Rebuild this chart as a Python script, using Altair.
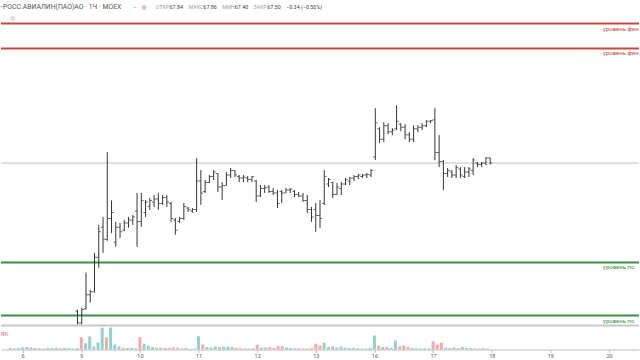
import altair as alt
import pandas as pd

FONT = "Roboto"

# ---------------- data (hourly bars, index 0 = first bar of day 6) ----------------
bar_index = list(range(-3, 112))
opens = [55.6, 55.5, 55.6,
         55.7, 55.9, 56.0, 55.9, 55.95, 56.0, 55.9, 55.95, 56.05, 56.1, 56.0, 56.05, 56.1, 56.15,
         57.6, 56.8, 57.75, 58.7, 58.9, 61.2, 63.2, 62.4, 63.8, 62.2, 63.2, 63.0, 63.5, 63.7,
         64.3, 63.6, 64.2, 64.6, 64.9, 65.1, 64.8, 65.2, 64.8, 63.7, 63.6, 63.8, 64.5, 64.3,
         64.4, 66.3, 65.6, 66.2, 66.6, 66.8, 65.9, 66.0, 66.7, 67.0, 66.6, 66.5, 66.5, 66.4,
         66.3, 65.3, 65.8, 65.9, 65.6, 65.5, 65.6, 65.5, 65.7, 65.6, 65.4, 65.3, 65.0, 64.4,
         64.4, 64.0, 64.8, 66.1, 66.2, 65.4, 65.8, 66.1, 66.3, 66.5, 66.6, 66.6, 66.7, 66.7,
         67.9, 69.8, 69.1, 70.0, 69.6, 69.8, 70.1, 69.9, 69.4, 69.1, 69.8, 69.9, 70.0, 70.3,
         70.4, 68.2, 67.6, 66.8, 66.9, 66.7, 67.1, 66.6, 66.9, 67.0, 67.5, 67.4, 67.5, 67.84]
highs = [55.8, 55.7, 55.8,
         56.0, 56.1, 56.2, 56.0, 56.1, 56.1, 56.0, 56.1, 56.2, 56.2, 56.1, 56.2, 56.2, 56.3,
         57.7, 57.83, 60.17, 59.03, 61.5, 63.37, 63.9, 68.23, 65.0, 63.57, 63.5, 63.7, 63.9, 64.03,
         65.5, 65.5, 65.03, 65.17, 65.37, 65.5, 65.37, 65.37, 64.9, 63.83, 63.9, 64.83, 64.57, 64.5,
         67.83, 67.03, 66.37, 66.7, 67.03, 66.83, 66.23, 66.9, 67.17, 67.03, 66.7, 66.7, 66.63, 66.63,
         66.37, 66.03, 66.03, 66.03, 65.83, 65.7, 65.7, 65.83, 65.83, 65.7, 65.57, 65.5, 65.37, 64.57,
         64.83, 65.03, 67.03, 66.5, 66.23, 66.17, 66.23, 66.5, 66.57, 66.7, 66.77, 66.77, 66.83, 67.1,
         71.17, 69.9, 70.23, 70.17, 69.83, 71.37, 70.17, 70.1, 69.57, 70.03, 70.03, 70.17, 70.37, 70.37,
         71.17, 69.37, 67.7, 67.17, 67.03, 67.37, 67.23, 67.23, 67.23, 67.83, 67.57, 67.57, 67.9, 67.86]
lows = [55.4, 55.4, 55.5,
        55.5, 55.7, 55.8, 55.7, 55.8, 55.8, 55.7, 55.8, 55.9, 55.9, 55.9, 55.9, 56.0, 56.0,
        55.9, 56.3, 57.7, 58.17, 58.85, 60.5, 61.5, 62.3, 62.83, 61.9, 62.5, 62.95, 63.17, 63.37,
        61.9, 63.23, 63.9, 64.37, 64.57, 64.37, 64.7, 64.57, 63.57, 62.7, 63.5, 63.7, 64.23, 64.17,
        64.23, 64.7, 65.5, 66.17, 66.37, 65.57, 65.03, 66.0, 66.5, 66.57, 66.23, 66.23, 66.23, 66.23,
        64.9, 65.23, 65.5, 65.5, 65.37, 64.5, 64.83, 65.5, 65.5, 65.23, 65.23, 64.9, 64.17, 63.57,
        62.9, 63.17, 64.7, 65.9, 65.17, 65.37, 65.37, 66.03, 66.03, 66.3, 66.43, 66.5, 66.5, 66.57,
        67.7, 68.83, 68.9, 69.43, 69.37, 69.7, 69.63, 69.1, 68.9, 68.9, 69.57, 69.7, 69.9, 70.17,
        67.7, 67.23, 65.7, 66.57, 66.5, 66.5, 66.5, 66.5, 66.57, 66.7, 67.23, 67.23, 67.37, 67.40]
closes = [55.5, 55.6, 55.7,
          55.9, 56.0, 55.9, 55.95, 56.0, 55.9, 55.95, 56.05, 56.1, 56.0, 56.05, 56.1, 56.15, 56.2,
          56.8, 57.7, 58.7, 58.9, 61.2, 62.9, 62.4, 63.8, 64.2, 63.2, 62.9, 63.5, 63.7, 63.9,
          63.6, 65.0, 64.9, 65.0, 65.1, 64.8, 65.2, 64.9, 63.8, 63.0, 63.8, 64.6, 64.4, 64.4,
          66.3, 65.5, 66.2, 66.6, 66.9, 65.9, 66.0, 66.7, 67.0, 66.7, 66.5, 66.55, 66.4, 66.6,
          65.3, 65.8, 65.85, 65.6, 65.5, 64.8, 65.5, 65.7, 65.75, 65.4, 65.3, 65.0, 64.4, 63.9,
          64.0, 63.8, 66.6, 66.4, 65.4, 65.9, 66.1, 66.4, 66.5, 66.6, 66.7, 66.7, 66.75, 67.0,
          70.2, 69.1, 70.0, 69.6, 69.7, 70.3, 69.9, 69.4, 69.1, 69.8, 69.9, 70.0, 70.3, 70.35,
          68.2, 67.6, 66.8, 67.0, 66.7, 67.2, 66.7, 66.9, 67.1, 67.7, 67.4, 67.5, 67.84, 67.50]
volumes = [0.3, 0.2, 0.3,
           0.4, 0.5, 0.4, 0.3, 0.25, 0.2, 0.3, 0.3, 0.35, 0.25, 0.3, 0.25, 0.2, 0.3,
           2.45, 1.25, 2.6, 0.6, 1.4, 4.35, 2.45, 4.4, 1.0, 0.6, 0.35, 0.3, 0.3, 0.2,
           2.45, 1.15, 0.75, 0.5, 0.35, 0.35, 0.3, 0.3, 0.4, 0.35, 0.2, 0.3, 0.15, 0.2,
           2.65, 1.0, 0.5, 0.4, 0.6, 0.5, 0.55, 0.55, 0.45, 0.3, 0.25, 0.2, 0.2, 0.25,
           0.95, 0.4, 0.4, 0.5, 0.3, 0.65, 0.65, 0.4, 0.3, 0.25, 0.25, 0.2, 0.2, 0.25,
           1.15, 0.8, 1.35, 0.5, 0.6, 0.4, 0.6, 0.35, 0.3, 0.3, 0.25, 0.2, 0.2, 0.3,
           2.8, 0.8, 0.5, 0.5, 0.3, 1.8, 0.6, 0.8, 0.5, 0.3, 0.25, 0.2, 0.25, 0.2,
           1.65, 1.0, 1.35, 0.4, 0.3, 0.4, 0.3, 0.5, 0.3, 0.3, 0.2, 0.2, 0.25, 0.2]

day_labels = ["6", "9", "10", "11", "12", "13", "16", "17", "18", "19", "20"]
bars_per_day = 14

level_prices = [76.83, 75.17, 60.85, 57.3]
level_names = ["уровень фин", "уровень фин", "уровень по", "уровень по"]
level_colors = ["#c9473f", "#c9473f", "#3f8f43", "#3f8f43"]

ticker_name = "-РОСС.АВИАЛИН(ПАО)АО · 1Ч · MOEX"
volume_label = "ЯК"

# ---------------- frames ----------------
df = pd.DataFrame({"i": bar_index, "o": opens, "h": highs, "l": lows, "c": closes, "v": volumes})
levels = pd.DataFrame({"p": level_prices, "name": level_names, "col": level_colors})
last_close = closes[-1]
prev_close = closes[-2]

W = 640
PRICE_H = 325
VOL_H = 24

xscale = alt.Scale(domain=[-3.98, 145.98], nice=False, zero=False)
yscale = alt.Scale(domain=[56.7, 78.37], nice=False, zero=False)


def X():
    return alt.X("i:Q", scale=xscale, axis=None)


def Y(field):
    return alt.Y(field, type="quantitative", scale=yscale, axis=None)


base = alt.Chart(df)

wicks = base.mark_rule(color="#333333", strokeWidth=1, clip=True).encode(
    x=X(), y=Y("l"), y2="h:Q")
open_t = base.mark_tick(orient="horizontal", size=2, thickness=1, xOffset=-1.2,
                        color="#333333", clip=True).encode(x=X(), y=Y("o"))
close_t = base.mark_tick(orient="horizontal", size=2, thickness=1, xOffset=1.2,
                         color="#333333", clip=True).encode(x=X(), y=Y("c"))

lv = alt.Chart(levels)
level_lines = lv.mark_rule(strokeWidth=2).encode(
    y=Y("p"), x=alt.value(0), x2=alt.value(W),
    color=alt.Color("col:N", scale=None))
level_text = lv.mark_text(align="left", baseline="top", dy=2, fontSize=6, font=FONT,
                          limit=W - 604, ellipsis="").encode(
    y=Y("p"), x=alt.value(604), text="name:N",
    color=alt.Color("col:N", scale=None))

price_line = alt.Chart(pd.DataFrame({"p": [last_close]})).mark_rule(
    color="#bdbdbd", strokeWidth=1).encode(
    y=Y("p"), x=alt.value(0), x2=alt.value(W))


def label(text, x, y, color, size=6.2, font=FONT):
    return alt.Chart(pd.DataFrame({"t": [text]})).mark_text(
        align="left", baseline="middle", fontSize=size, color=color, font=font).encode(
        x=alt.value(x), y=alt.value(y), text="t:N")


chg = last_close - prev_close
LBL = "#a0a0a0"
VAL = "#444444"
HS = 5.4
header = [
    label(ticker_name, 0, 6.5, "#555555", 6.9),
    label("–", 133, 6.5, "#777777", 6, "DejaVu Sans"),
    label("●", 141, 6.5, "#f2b8b8", 6, "DejaVu Sans"),
    label("ОТКР", 155, 6.5, LBL, HS), label(f"{opens[-1]:.2f}", 169, 6.5, VAL, HS),
    label("МАКС", 188, 6.5, LBL, HS), label(f"{highs[-1]:.2f}", 203, 6.5, VAL, HS),
    label("МИН", 222, 6.5, LBL, HS), label(f"{lows[-1]:.2f}", 234.5, 6.5, VAL, HS),
    label("ЗАКР", 253, 6.5, LBL, HS), label(f"{last_close:.2f}", 267, 6.5, VAL, HS),
    label(f"{chg:+.2f} ({chg / prev_close * 100:+.2f}%)".replace("-", "−"), 286, 6.5, VAL, HS),
    label("◎", 9, 17, "#999999", 6, "DejaVu Sans"),
]

price = alt.layer(price_line, level_lines, level_text, wicks, open_t, close_t, *header).properties(
    width=W, height=PRICE_H)

# ---------------- volume pane ----------------
label_expr = "[" + ",".join(f"'{d}'" for d in day_labels) + f"][round(datum.value/{bars_per_day})]"
tick_vals = [k * bars_per_day for k in range(len(day_labels))]

vol_bars = base.mark_bar(size=3).encode(
    x=alt.X("i:Q", scale=xscale, axis=alt.Axis(
        values=tick_vals, labelExpr=label_expr, grid=False, title=None,
        domainColor="#bdbdbd", tickColor="#bdbdbd", tickSize=3, labelFontSize=5.5,
        labelColor="#555555", labelPadding=1, labelFont=FONT)),
    y=alt.Y("v:Q", scale=alt.Scale(domain=[0, 4.8], nice=False), axis=None),
    color=alt.condition("datum.c >= datum.o", alt.value("#92d2cc"), alt.value("#f7a9a7")))
sep = alt.Chart(pd.DataFrame({"a": [0]})).mark_rule(color="#c8c8c8", strokeWidth=2).encode(
    y=alt.value(0), x=alt.value(0), x2=alt.value(W))
vol_text = label(volume_label, 0, 8, "#e06666", 5.5)

volume = alt.layer(vol_bars, sep, vol_text).properties(width=W, height=VOL_H)

chart = alt.vconcat(price, volume, spacing=0).properties(
    padding=0, background="white").configure_view(stroke=None)

chart.save("out.html", embed_options={"renderer": "svg", "actions": False})
